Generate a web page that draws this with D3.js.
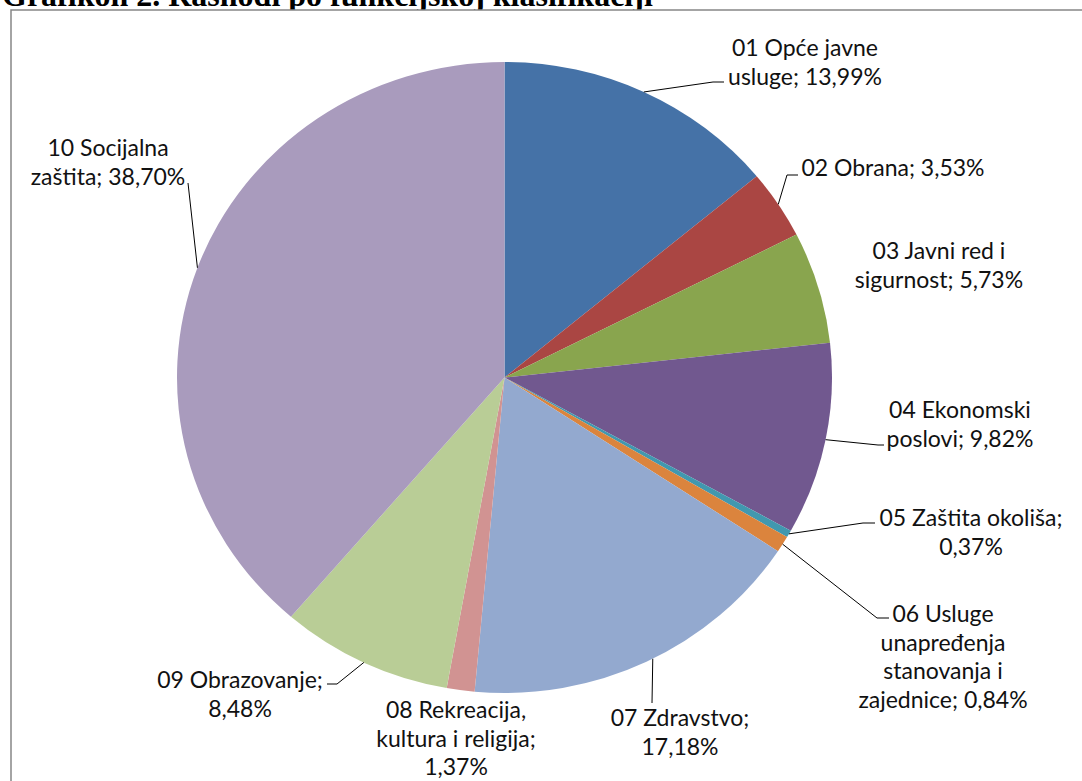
<!DOCTYPE html>
<html>
<head>
<meta charset="utf-8">
<script src="https://cdn.jsdelivr.net/npm/d3@7"></script>
<style>
  html, body { margin: 0; padding: 0; background: #fff; }
  svg { display: block; }
</style>
</head>
<body>
<svg id="chart" width="1082" height="781"></svg>
<script>
// ---- data ----
const categories = [
  "01 Opće javne usluge",
  "02 Obrana",
  "03 Javni red i sigurnost",
  "04 Ekonomski poslovi",
  "05 Zaštita okoliša",
  "06 Usluge unapređenja stanovanja i zajednice",
  "07 Zdravstvo",
  "08 Rekreacija, kultura i religija",
  "09 Obrazovanje",
  "10 Socijalna zaštita"
];
const values = [13.99, 3.53, 5.73, 9.82, 0.37, 0.84, 17.18, 1.37, 8.48, 38.70];
const valueLabels = ["13,99%", "3,53%", "5,73%", "9,82%", "0,37%", "0,84%", "17,18%", "1,37%", "8,48%", "38,70%"];
const labelLines = [
  ["01 Opće javne", "usluge; 13,99%"],
  ["02 Obrana; 3,53%"],
  ["03 Javni red i", "sigurnost; 5,73%"],
  ["04 Ekonomski", "poslovi; 9,82%"],
  ["05 Zaštita okoliša;", "0,37%"],
  ["06 Usluge", "unapređenja", "stanovanja i", "zajednice; 0,84%"],
  ["07 Zdravstvo;", "17,18%"],
  ["08 Rekreacija,", "kultura i religija;", "1,37%"],
  ["09 Obrazovanje;", "8,48%"],
  ["10 Socijalna", "zaštita; 38,70%"]
];
const colors = ["#4572A7", "#AA4643", "#89A54E", "#71588F", "#4198AF",
                "#DB843D", "#93A9CF", "#D19392", "#B9CD96", "#A99BBD"];
const title = "Grafikon 2. Rashodi po funkcijskoj klasifikaciji";

// ---- layout (positions, not data) ----
const labelLayout = [
  { x: 805, y: 47,  leader: [[713, 82], [724, 82]] },
  { x: 893, y: 167, leader: [[787, 175], [798, 175]] },
  { x: 939, y: 250, leader: null },
  { x: 960, y: 409, leader: [[878, 445], [884, 445]] },
  { x: 971, y: 517, leader: [[863, 523], [875, 523]] },
  { x: 943, y: 613, leader: [[877, 618], [889, 618]] },
  { x: 680, y: 717, leader: [[652, 703]], frac: 0.48 },
  { x: 456, y: 709, leader: null },
  { x: 240, y: 679, leader: [[337, 684], [327, 684]] },
  { x: 108, y: 147, leader: [[188, 183]] }
];

const W = 1082, H = 781;
const cx = 504.5, cy = 377.5, rx = 327.5, ry = 315.5;
const lineH = 28.5;

const svg = d3.select("#chart");

// title (cut off at top, as in the reference)
svg.append("text")
  .attr("x", 2).attr("y", 6)
  .attr("font-family", "'Liberation Serif', 'Times New Roman', serif")
  .attr("font-weight", "bold")
  .attr("font-size", 32)
  .attr("fill", "#000")
  .text(title);

// chart border
svg.append("rect")
  .attr("x", 11).attr("y", 10)
  .attr("width", W + 20).attr("height", H + 20)
  .attr("fill", "#fff")
  .attr("stroke", "#868686")
  .attr("stroke-width", 1.5);

const pie = d3.pie().value(d => d).sort(null);
const arcs = pie(values);
const arc = d3.arc().innerRadius(0).outerRadius(ry);

const g = svg.append("g")
  .attr("transform", `translate(${cx},${cy}) scale(${rx / ry},1)`);

g.selectAll("path")
  .data(arcs)
  .join("path")
  .attr("d", arc)
  .attr("fill", (d, i) => colors[i]);

// leader lines
const edgePoint = (d, frac) => {
  const a = d.startAngle + (d.endAngle - d.startAngle) * frac;
  return [cx + rx * Math.sin(a), cy - ry * Math.cos(a)];
};

const lineGen = d3.line();
arcs.forEach((d, i) => {
  const L = labelLayout[i];
  if (!L.leader) return;
  const pts = [edgePoint(d, L.frac ?? 0.5), ...L.leader];
  svg.append("path")
    .attr("d", lineGen(pts))
    .attr("fill", "none")
    .attr("stroke", "#000")
    .attr("stroke-width", 1);
});

// labels
arcs.forEach((d, i) => {
  const L = labelLayout[i];
  const t = svg.append("text")
    .attr("text-anchor", "middle")
    .attr("dominant-baseline", "central")
    .attr("font-family", "Lato, 'Open Sans', sans-serif")
    .attr("font-size", 23)
    .attr("fill", "#111");
  labelLines[i].forEach((ln, k) => {
    t.append("tspan")
      .attr("x", L.x)
      .attr("y", L.y + k * lineH)
      .text(ln);
  });
});
</script>
</body>
</html>
